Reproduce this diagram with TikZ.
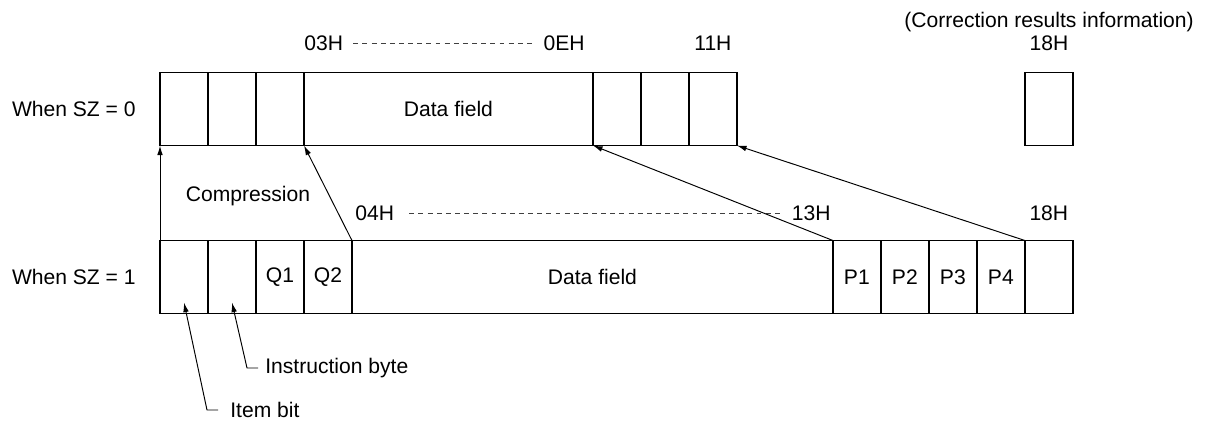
\documentclass[tikz,border=0pt]{standalone}
\usepackage{fontspec}
\setmainfont{Liberation Sans}
\usetikzlibrary{arrows.meta, positioning}
\tikzset{
    cell/.style={
        draw,
        line width=1.1pt,
        minimum width=0.96cm,
        minimum height=1.46cm,
        inner sep=0pt,
        outer sep=0pt,
        font=\fontsize{12}{14}\selectfont
    },
    datacell/.style={cell, minimum width=#1},
    lbl/.style={font=\fontsize{12}{14}\selectfont, inner sep=0pt},
    arrow/.style={-{Latex[length=5.5pt, width=3.2pt]}, line width=0.55pt},
    spanline/.style={dash pattern=on 2.8pt off 2.4pt, line width=0.5pt, draw=black!75}
}

\begin{document}
\begin{tikzpicture}[x=0.02cm, y=-0.02cm, node distance=0pt]
    \useasboundingbox (0,0) rectangle (1207,421);

    % Nodes (SZ = 0)
    \node[cell, anchor=north west] (t1) at (160,72.5) {};
    \node[cell, right=of t1] (t2) {};
    \node[cell, right=of t2] (t3) {};
    \node[datacell=5.78cm, right=of t3] (tdata) {Data field};
    \node[cell, right=of tdata] (t4) {};
    \node[cell, right=of t4] (t5) {};
    \node[cell, right=of t5] (t6) {};
    \node[cell, anchor=north west] (tcr) at (1025,72.5) {};

    % Nodes (SZ = 1)
    \node[cell, anchor=north west] (b1) at (160,240.5) {};
    \node[cell, right=of b1] (b2) {};
    \node[cell, right=of b2] (q1) {Q1};
    \node[cell, right=of q1] (q2) {Q2};
    \node[datacell=9.62cm, right=of q2] (bdata) {Data field};
    \node[cell, right=of bdata] (p1) {P1};
    \node[cell, right=of p1] (p2) {P2};
    \node[cell, right=of p2] (p3) {P3};
    \node[cell, right=of p3] (p4) {P4};
    \node[cell, right=of p4] (b3) {};

    % Labels
    \node[lbl, left=0.48cm of t1] (sz0) {When SZ = 0};
    \node[lbl, left=0.48cm of b1] (sz1) {When SZ = 1};
    \node[lbl, anchor=base west] (h03) at ([yshift=0.44cm]tdata.north west) {03H};
    \node[lbl, anchor=base east] (h0e) at ([xshift=-0.16cm, yshift=0.44cm]tdata.north east) {0EH};
    \node[lbl, anchor=base] (h11) at ([yshift=0.44cm]t6.north) {11H};
    \node[lbl, anchor=base] (h18a) at ([yshift=0.44cm]tcr.north) {18H};
    \node[lbl, anchor=base] (corr) at ([yshift=0.89cm]tcr.north) {(Correction results information)};
    \node[lbl, anchor=base west] (h04) at ([xshift=0.06cm, yshift=0.39cm]bdata.north west) {04H};
    \node[lbl, anchor=base east] (h13) at ([xshift=-0.04cm, yshift=0.39cm]bdata.north east) {13H};
    \node[lbl, anchor=base] (h18b) at ([yshift=0.39cm]b3.north) {18H};
    \node[lbl] (comp) at (248,196) {Compression};
    \node[lbl, anchor=west] (instr) at (265,368) {Instruction byte};
    \node[lbl, anchor=west] (item) at (230,410) {Item bit};
    \coordinate (instrtip) at ([yshift=0.22cm]b2.south);
    \coordinate (itemtip) at ([yshift=0.22cm]b1.south);

    % Ranges
    \draw[spanline] ([xshift=0.2cm]h03.east) -- ([xshift=-0.18cm]h0e.west);
    \draw[spanline] ([xshift=0.3cm]h04.east) -- ([xshift=-0.18cm]h13.west);

    % Arrows
    \draw[arrow] (b1.north west) -- (t1.south west);
    \draw[arrow] (q2.north east) -- (t3.south east);
    \draw[arrow] (bdata.north east) -- (tdata.south east);
    \draw[arrow] (p4.north east) -- (t6.south east);
    \draw[arrow] ([xshift=-0.14cm]instr.west) -- ++(-11,0) -- (instrtip);
    \draw[arrow] ([xshift=-0.24cm]item.west) -- ++(-11,0) -- (itemtip);
\end{tikzpicture}
\end{document}
